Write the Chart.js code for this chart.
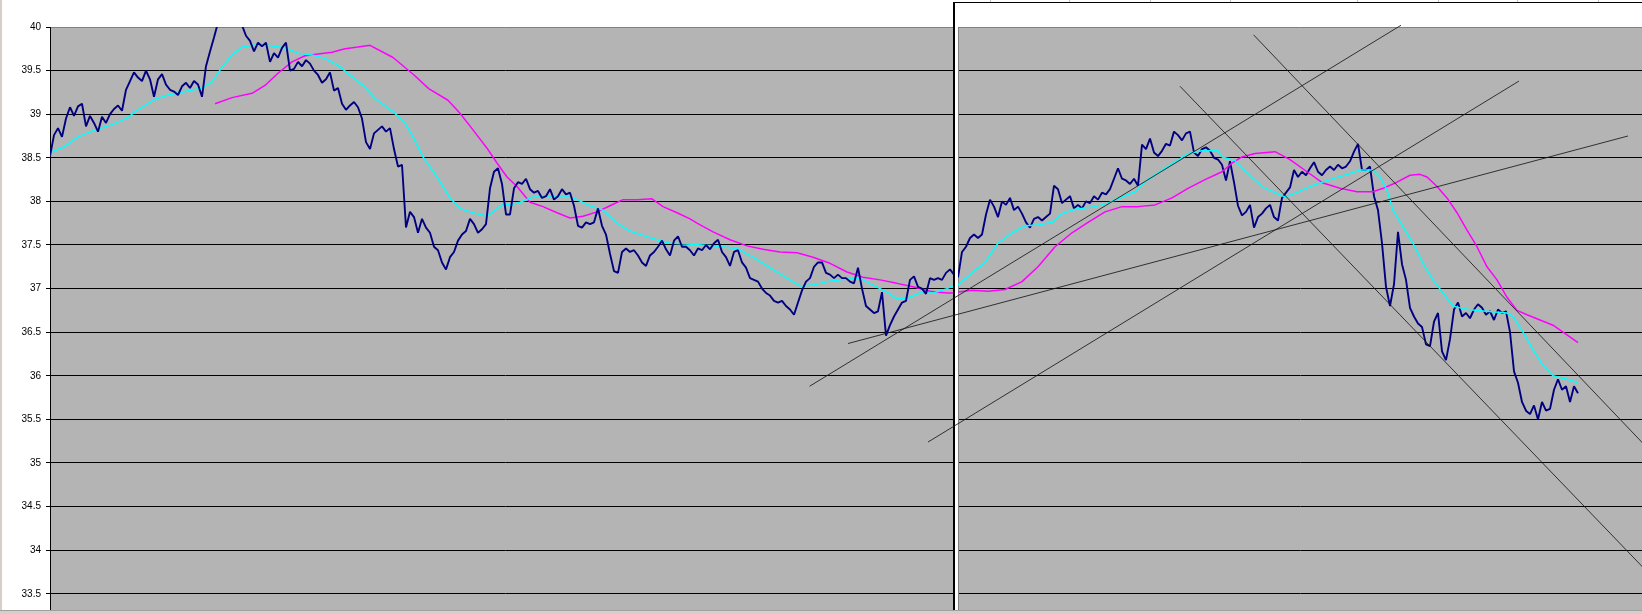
<!DOCTYPE html>
<html>
<head>
<meta charset="utf-8">
<script src="https://cdn.jsdelivr.net/npm/chart.js@4/dist/chart.umd.min.js"></script>
<style>
  html, body { margin: 0; padding: 0; background: #fff; overflow: hidden; }
  #wrap { position: relative; width: 1642px; height: 614px; overflow: hidden; }
  #left { position: absolute; left: 0; top: 0; z-index: 1; }
  #frame { position: absolute; left: 953px; top: 2px; width: 689px; height: 612px;
           background: #fff; border-left: 2px solid #000; border-top: 1px solid #000; box-sizing: border-box; z-index: 2; }
  #right { position: absolute; left: 0; top: 0; z-index: 3; }
  .col { position: absolute; top: 0; width: 1px; height: 2px; background: #c0c0c0; z-index: 4; }
  #edge { position: absolute; left: 0; top: 0; width: 2px; height: 614px; background: #d4d0c8; z-index: 4; }
  #status { position: absolute; left: 0; top: 610px; width: 1642px; height: 4px; background: #d4d0c8;
            border-top: 1px solid #a0a0a0; box-sizing: border-box; z-index: 5; }
</style>
</head>
<body>
<div id="wrap">
  <canvas id="left" width="960" height="614"></canvas>
  <div id="frame"></div>
  <canvas id="right" width="1642" height="614"></canvas>
  <div id="edge"></div>
  <div id="status"></div>
</div>
<script>
// eixo de precos (mesmo nos dois graficos)
const yTicks = [33.5, 34, 34.5, 35, 35.5, 36, 36.5, 37, 37.5, 38, 38.5, 39, 39.5, 40];

// grafico da esquerda: cotacao (um ponto por passo)
const navyLeft = [
  38.52, 38.76, 38.84, 38.74, 38.95, 39.08, 38.98, 39.09, 39.12, 38.86,
  38.98, 38.9, 38.8, 38.97, 38.9, 39.0, 39.06, 39.1, 39.04, 39.28,
  39.38, 39.48, 39.42, 39.38, 39.5, 39.4, 39.2, 39.4, 39.46, 39.34,
  39.28, 39.26, 39.22, 39.32, 39.36, 39.3, 39.38, 39.34, 39.2, 39.55,
  39.72, 39.88, 40.05, 40.15, 40.2, 40.25, 40.2, 40.12, 40.02, 39.9,
  39.84, 39.72, 39.82, 39.78, 39.82, 39.6, 39.7, 39.65, 39.76, 39.82,
  39.5, 39.52, 39.6, 39.55, 39.62, 39.58, 39.5, 39.45, 39.36, 39.4,
  39.48, 39.27, 39.3, 39.12, 39.05, 39.1, 39.14, 39.08, 38.95, 38.68,
  38.6, 38.78, 38.82, 38.86, 38.8, 38.84, 38.6, 38.4, 38.42, 37.7,
  37.88, 37.82, 37.64, 37.8, 37.7, 37.64, 37.48, 37.44, 37.3, 37.22,
  37.36, 37.42, 37.55, 37.62, 37.66, 37.8, 37.74, 37.64, 37.68, 37.74,
  38.15, 38.34, 38.38, 38.2, 37.85, 37.85, 38.15, 38.22, 38.2, 38.26,
  38.14, 38.1, 38.12, 38.04, 38.06, 38.14, 38.02, 38.06, 38.14, 38.08,
  38.1, 37.95, 37.72, 37.7, 37.76, 37.74, 37.76, 37.92, 37.72, 37.62,
  37.4, 37.2, 37.18, 37.42, 37.46, 37.42, 37.44, 37.38, 37.3, 37.26,
  37.38, 37.42, 37.48, 37.55, 37.45, 37.38, 37.55, 37.6, 37.48, 37.48,
  37.44, 37.38, 37.46, 37.44, 37.5, 37.45, 37.52, 37.56, 37.42, 37.36,
  37.26, 37.42, 37.44, 37.3, 37.24, 37.12, 37.1, 37.08, 37.0, 36.95,
  36.92, 36.86, 36.84, 36.86, 36.8, 36.76, 36.7, 36.84, 36.98, 37.08,
  37.12, 37.25, 37.3, 37.3, 37.18, 37.16, 37.12, 37.16, 37.12, 37.12,
  37.08, 37.06, 37.24, 37.0, 36.8, 36.76, 36.72, 36.74, 36.96, 36.46,
  36.58, 36.68, 36.76, 36.84, 36.86, 37.1, 37.14, 37.02, 37.0, 36.94,
  37.12, 37.1, 37.12, 37.1, 37.18, 37.22, 37.16
];
// medias moveis (posicao no eixo x, valor)
const cyanLeftAt = [0, 3.75, 7, 11.25, 15.5, 19.5, 21.25, 23.75, 26.25, 29.5,
  33.75, 38, 40.5, 43, 45.5, 48, 50.5, 54.5, 58.75, 62,
  65.5, 68.75, 72, 75.5, 78.75, 81.25, 85.75, 88.75, 90.75, 93.25,
  96.75, 100, 102.5, 105, 109.25, 110.75, 113.25, 115, 117.5, 120.75,
  130, 131.75, 135, 138.25, 141.75, 145, 148.25, 151.75, 155, 159.25,
  165.75, 171.75, 175.75, 180, 184.25, 187.5, 190.75, 194.25, 197.5, 202.5,
  205.75, 209.25, 211.75, 214.25, 217.5, 220.75, 224.25, 226];
const cyanLeft = [38.56, 38.63, 38.74, 38.82, 38.88, 38.96, 39.03, 39.1, 39.17, 39.22,
  39.26, 39.3, 39.37, 39.54, 39.68, 39.77, 39.79, 39.79, 39.76, 39.7,
  39.68, 39.64, 39.56, 39.43, 39.31, 39.18, 39.03, 38.9, 38.74, 38.51,
  38.28, 38.04, 37.92, 37.88, 37.83, 37.88, 37.97, 37.96, 37.99, 38.05,
  38.05, 38.02, 37.95, 37.9, 37.75, 37.66, 37.61, 37.56, 37.52, 37.51,
  37.49, 37.46, 37.36, 37.24, 37.12, 37.03, 37.04, 37.08, 37.1, 37.12,
  37.04, 36.96, 36.88, 36.89, 36.95, 36.95, 37.0, 37.04];
const magLeftAt = [41.25, 45.5, 50.5, 53.75, 57, 60.5, 63.75, 67, 70.5, 73.75,
  77, 80, 85.75, 91, 94.75, 99.5, 102.5, 105.75, 109.25, 111.75,
  114.25, 116.75, 120, 123.25, 126.75, 130, 133.25, 136.75, 140, 143.25,
  146.75, 150.5, 153.25, 156.75, 160, 161.75, 165.75, 170, 174.25, 178.25,
  182.5, 186.75, 190.75, 195, 199.25, 203.25, 207.5, 211.75, 215.75, 220,
  224.25, 226];
const magLeft = [39.12, 39.19, 39.24, 39.33, 39.47, 39.6, 39.67, 39.69, 39.71, 39.75,
  39.77, 39.79, 39.65, 39.45, 39.29, 39.16, 39.01, 38.82, 38.61, 38.44,
  38.28, 38.17, 37.99, 37.94, 37.87, 37.81, 37.83, 37.88, 37.95, 38.02,
  38.02, 38.03, 37.94, 37.87, 37.8, 37.75, 37.65, 37.56, 37.49, 37.45,
  37.42, 37.41, 37.36, 37.29, 37.19, 37.13, 37.1, 37.06, 37.02, 36.97,
  36.95, 36.95];

// grafico da direita
const navyRight = [
  37.13, 37.42, 37.48, 37.58, 37.62, 37.58, 37.62, 37.85, 38.02, 37.94,
  37.82, 38.0, 37.96, 38.04, 37.9, 37.94, 37.86, 37.76, 37.7, 37.8,
  37.82, 37.78, 37.82, 37.86, 38.18, 38.14, 37.98, 38.02, 38.06, 37.92,
  37.96, 37.92, 38.0, 37.98, 38.06, 38.02, 38.1, 38.08, 38.14, 38.26,
  38.38, 38.26, 38.24, 38.2, 38.26, 38.18, 38.65, 38.6, 38.72, 38.56,
  38.52, 38.58, 38.66, 38.64, 38.8, 38.76, 38.7, 38.78, 38.8, 38.56,
  38.52, 38.6, 38.62, 38.58, 38.5, 38.48, 38.42, 38.24, 38.46, 38.22,
  37.95, 37.84, 37.88, 37.96, 37.7, 37.82, 37.86, 37.92, 37.96, 37.82,
  37.78, 38.04, 38.1, 38.16, 38.36, 38.28, 38.34, 38.3, 38.38, 38.45,
  38.34, 38.3, 38.36, 38.4, 38.36, 38.42, 38.38, 38.4, 38.46, 38.57,
  38.66, 38.36, 38.36, 38.4, 38.06, 37.9, 37.52, 37.02, 36.8, 37.05,
  37.65, 37.28, 37.1, 36.78, 36.68, 36.6, 36.56, 36.36, 36.34, 36.62,
  36.72, 36.28, 36.18, 36.42, 36.76, 36.84, 36.68, 36.72, 36.66, 36.76,
  36.82, 36.78, 36.7, 36.74, 36.64, 36.76, 36.72, 36.74, 36.5, 36.05,
  35.92, 35.7, 35.6, 35.56, 35.66, 35.5, 35.7, 35.6, 35.62, 35.84,
  35.96, 35.84, 35.88, 35.7, 35.88, 35.8
];
const cyanRightAt = [0, 3.5, 6.75, 10, 13.5, 16.75, 20, 23.5, 26, 29.25,
  34.25, 37.5, 41, 44.25, 47.5, 51, 54.25, 57.5, 61, 65,
  66, 69.25, 72.5, 76, 79.25, 81.75, 83.5, 88, 93, 98,
  100.5, 103.75, 105.5, 107.25, 108.75, 111.25, 113.75, 116.25, 118.75, 121.25,
  123.75, 126.25, 129.75, 137.25, 138.75, 141.25, 143.75, 146.25, 148.75, 152.25,
  155];
const cyanRight = [37.04, 37.18, 37.3, 37.52, 37.64, 37.72, 37.73, 37.76, 37.86, 37.91,
  37.94, 37.98, 38.05, 38.11, 38.25, 38.36, 38.45, 38.55, 38.58, 38.58,
  38.51, 38.47, 38.32, 38.17, 38.1, 38.05, 38.08, 38.17, 38.25, 38.32,
  38.36, 38.36, 38.28, 38.13, 37.9, 37.71, 37.52, 37.29, 37.1, 36.95,
  36.8, 36.77, 36.75, 36.72, 36.68, 36.5, 36.3, 36.12, 36.0, 35.96,
  35.92];
const magRightAt = [0, 3.5, 7.5, 11.75, 16, 20, 24.25, 28.5, 32.5, 36.75,
  41, 45, 49.25, 53.5, 57.5, 61.75, 66, 68.5, 71, 74.25,
  79.25, 83, 87.25, 91.25, 95.5, 99.75, 103.75, 106.25, 109.75, 113,
  115.5, 117.25, 119.75, 122.25, 124.75, 127.25, 129.75, 132.25, 134.75, 137.25,
  139.75, 142.25, 145.5, 148.75, 152.25, 155];
const magRight = [36.96, 36.98, 36.97, 36.99, 37.08, 37.25, 37.48, 37.64, 37.76, 37.88,
  37.94, 37.94, 37.96, 38.04, 38.15, 38.25, 38.34, 38.44, 38.51, 38.55,
  38.57, 38.48, 38.34, 38.21, 38.15, 38.11, 38.11, 38.15, 38.22, 38.3,
  38.31, 38.28, 38.17, 38.04, 37.87, 37.67, 37.48, 37.25, 37.1, 36.9,
  36.75, 36.7, 36.64, 36.58, 36.47, 36.38];

// linhas de tendencia (no eixo do grafico da direita)
const trendFromAt = [-37.1, -27.5, -7.5, 55.5, 73.9];
const trendFrom   = [35.88, 36.37, 35.24, 39.32, 39.91];
const trendToAt   = [110.75, 167.5, 140.25, 175.5, 175.5];
const trendTo     = [40.02, 38.75, 39.38, 33.60, 35.02];

const pts = (xs, ys) => ys.map((v, i) => ({ x: xs[i], y: v }));
const seq = ys => ys.map((v, i) => ({ x: i, y: v }));

const plotBg = {
  id: 'plotBg',
  beforeDraw(chart) {
    const { ctx, chartArea: a } = chart;
    ctx.save();
    ctx.fillStyle = '#b4b4b4';
    ctx.fillRect(a.left, a.top, a.right - a.left, a.bottom - a.top);
    ctx.restore();
  }
};

const serie = (data, color, w) => ({
  data, borderColor: color, borderWidth: w, pointRadius: 0,
  tension: 0, borderJoinStyle: 'bevel', fill: false
});

const gridColor = c => (c.tick && c.tick.value === 40 ? '#808080' : '#000000');

function yScale(isLeft) {
  return {
    min: 33.314, max: 40,
    afterBuildTicks: s => { s.ticks = yTicks.map(v => ({ value: v })); },
    afterFit: s => {
      s.width = isLeft ? 50 : 0;
      s.paddingTop = 0;
      s.paddingBottom = 0;
    },
    ticks: {
      display: isLeft, color: '#000', padding: 5,
      font: { family: 'Liberation Sans, Arial, sans-serif', size: 10 },
      callback: v => String(v)
    },
    grid: { color: gridColor, lineWidth: 1, drawTicks: isLeft, tickLength: 4, tickColor: '#000' },
    border: { color: isLeft ? '#000' : '#808080', width: 1 }
  };
}

const commonOpts = {
  responsive: false,
  animation: false,
  events: [],
  plugins: { legend: { display: false }, tooltip: { enabled: false } }
};

window.onload = function () {
  new Chart(document.getElementById('left').getContext('2d'), {
    type: 'line',
    data: {
      datasets: [
        serie(seq(navyLeft), '#000080', 1.9),
        serie(pts(cyanLeftAt, cyanLeft), '#00ffff', 1.5),
        serie(pts(magLeftAt, magLeft), '#ff00ff', 1.5)
      ]
    },
    options: Object.assign({}, commonOpts, {
      layout: { padding: { top: 27, bottom: 4, left: 0, right: 0 } },
      scales: {
        x: { type: 'linear', display: false, min: 0, max: 227.5 },
        y: yScale(true)
      }
    }),
    plugins: [plotBg]
  });

  const trends = trendFrom.map((v, i) => Object.assign(
    serie([{ x: trendFromAt[i], y: v }, { x: trendToAt[i], y: trendTo[i] }], 'rgba(25,25,25,0.85)', 1),
    { clip: false }
  ));

  new Chart(document.getElementById('right').getContext('2d'), {
    type: 'line',
    data: {
      datasets: trends.concat([
        serie(pts(cyanRightAt, cyanRight), '#00ffff', 1.5),
        serie(pts(magRightAt, magRight), '#ff00ff', 1.5),
        serie(seq(navyRight), '#000080', 1.9)
      ])
    },
    options: Object.assign({}, commonOpts, {
      layout: { padding: { top: 27, bottom: 4, left: 958, right: 0 } },
      scales: {
        x: { type: 'linear', display: false, min: 0, max: 171 },
        y: yScale(false)
      }
    }),
    plugins: [plotBg]
  });

  // linhas das colunas da planilha acima do grafico
  [990, 1069, 1150, 1230, 1357, 1438, 1517, 1598].forEach(x => {
    const d = document.createElement('div');
    d.className = 'col';
    d.style.left = x + 'px';
    document.getElementById('wrap').appendChild(d);
  });
};
</script>
</body>
</html>
